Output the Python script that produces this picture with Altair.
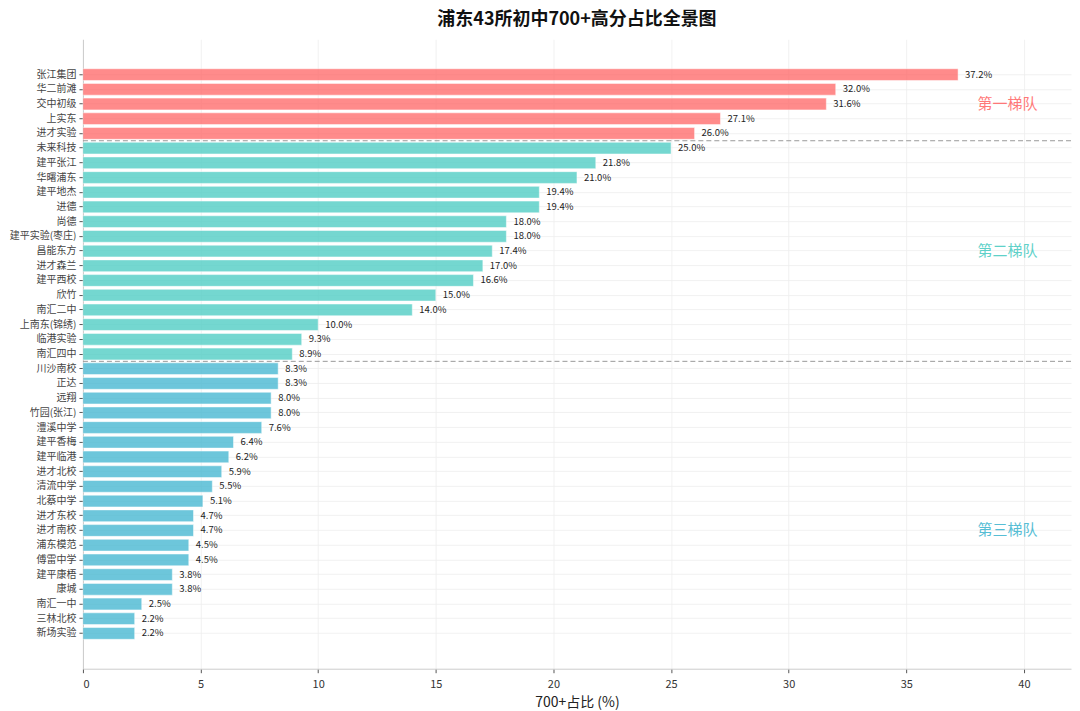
import altair as alt
import pandas as pd

names = ["张江集团", "华二前滩", "交中初级", "上实东", "进才实验",
         "未来科技", "建平张江", "华曙浦东", "建平地杰", "进德", "尚德", "建平实验(枣庄)",
         "昌能东方", "进才森兰", "建平西校", "欣竹", "南汇二中", "上南东(锦绣)", "临港实验", "南汇四中",
         "川沙南校", "正达", "远翔", "竹园(张江)", "澧溪中学", "建平香梅", "建平临港", "进才北校",
         "清流中学", "北蔡中学", "进才东校", "进才南校", "浦东模范", "傅雷中学", "建平康梧", "康城",
         "南汇一中", "三林北校", "新场实验"]
values = [37.2, 32.0, 31.6, 27.1, 26.0,
          25.0, 21.8, 21.0, 19.4, 19.4, 18.0, 18.0, 17.4, 17.0, 16.6, 15.0, 14.0, 10.0, 9.3, 8.9,
          8.3, 8.3, 8.0, 8.0, 7.6, 6.4, 6.2, 5.9, 5.5, 5.1, 4.7, 4.7, 4.5, 4.5, 3.8, 3.8, 2.5, 2.2, 2.2]
tier_names = ["第一梯队", "第二梯队", "第三梯队"]
tier_sizes = [5, 15, 19]
tier_colors = ["#FF6B6B", "#4ECDC4", "#45B7D1"]
tier_label_at = ["交中初级", "昌能东方", "进才南校"]
tier_label_x = [39.3, 39.3, 39.3]
boundary_next = ["未来科技", "川沙南校"]

tiers = []
for t, n in zip(tier_names, tier_sizes):
    tiers += [t] * n

df = pd.DataFrame({"name": names, "value": values, "tier": tiers})
df["label"] = df["value"].map(lambda v: f"{v:.1f}%")

tier_df = pd.DataFrame({"tier": tier_names, "name": tier_label_at, "x": tier_label_x})
bnd_df = pd.DataFrame({"name": boundary_next})

# blank slots above and below the bars (matplotlib-style margins)
y_domain = ["_top1", "_top2"] + names + ["_bot1", "_bot2"]

FONT = "Noto Sans CJK SC"
color_scale = alt.Scale(domain=tier_names, range=tier_colors)
y_scale = alt.Scale(domain=y_domain, paddingInner=0.2, paddingOuter=0.0)
x_scale = alt.Scale(domain=[0, 42], nice=False)

y_enc = alt.Y("name:N", scale=y_scale,
              axis=alt.Axis(title=None, values=names, labelFontSize=10, labelColor="#444444", labelFont=FONT,
                            tickColor="#555555", tickSize=4, domainColor="#cccccc",
                            grid=True, gridColor="#eeeeee", gridOpacity=0.8,
                            labelPadding=3, minExtent=75, maxExtent=75, labelLimit=200))

bars = alt.Chart(df).mark_bar(opacity=0.78, stroke="white", strokeWidth=0.5).encode(
    x=alt.X("value:Q", scale=x_scale,
            axis=alt.Axis(title="700+占比 (%)", titleFontSize=14, titleFont=FONT, titleFontWeight="normal",
                          titleColor="#222222", labelFontSize=11, labelColor="#333333", labelFont=FONT,
                          values=[0, 5, 10, 15, 20, 25, 30, 35, 40], tickColor="#555555", tickSize=4,
                          domainColor="#cccccc", grid=True, gridColor="#eeeeee", gridOpacity=0.8,
                          labelPadding=6, titlePadding=6)),
    y=y_enc,
    color=alt.Color("tier:N", scale=color_scale, legend=None),
)

texts = alt.Chart(df).mark_text(align="left", baseline="middle", dx=7, fontSize=9.5,
                                font=FONT, color="#222222").encode(
    x=alt.X("value:Q", scale=x_scale),
    y=alt.Y("name:N", scale=y_scale),
    text="label:N",
)

rules = alt.Chart(bnd_df).mark_rule(color="#999999", strokeDash=[5, 3], strokeWidth=1).encode(
    y=alt.Y("name:N", scale=y_scale, bandPosition=0),
    yOffset=alt.value(-1.5),
)

tier_text = alt.Chart(tier_df).mark_text(align="center", baseline="middle", fontSize=15,
                                         font=FONT, fontWeight="normal", opacity=0.9).encode(
    x=alt.X("x:Q", scale=x_scale),
    y=alt.Y("name:N", scale=y_scale),
    text="tier:N",
    color=alt.Color("tier:N", scale=color_scale, legend=None),
)

chart = alt.layer(bars, texts, rules, tier_text).properties(
    width=989, height=630, padding={"top": 3, "left": 0, "right": 0, "bottom": 0},
    title=alt.TitleParams("浦东43所初中700+高分占比全景图", fontSize=18, font=FONT,
                          fontWeight="bold", color="#111111", offset=10, anchor="middle"),
).configure_view(stroke=None)

chart.save("out.html", embed_options={"renderer": "svg", "actions": False})
